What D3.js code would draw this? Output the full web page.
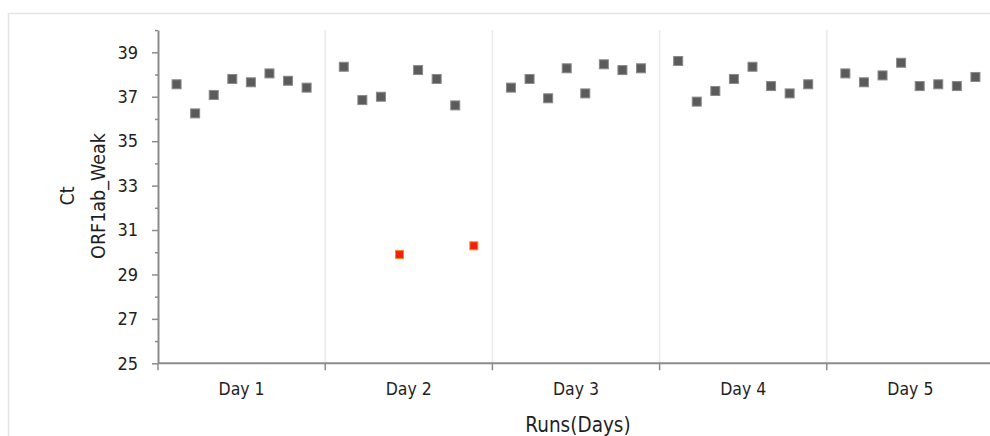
<!DOCTYPE html>
<html>
<head>
<meta charset="utf-8">
<script src="https://cdn.jsdelivr.net/npm/d3@7"></script>
<style>
  html, body { margin: 0; padding: 0; background: #fff; }
  svg { display: block; }
  text { font-family: 'DejaVu Sans Condensed', 'DejaVu Sans', sans-serif; fill: #1f1f1f; }
</style>
</head>
<body>
<div id="chart"></div>
<script>
// 데이터 - Ct 값 (ORF1ab_Weak), 하루 8회 측정
const days = ['Day 1', 'Day 2', 'Day 3', 'Day 4', 'Day 5'];
const ctDay1 = [37.56, 36.25, 37.08, 37.80, 37.65, 38.05, 37.72, 37.41];
const ctDay2 = [38.35, 36.85, 37.00, 29.90, 38.20, 37.80, 36.61, 30.29];
const ctDay3 = [37.41, 37.80, 36.93, 38.28, 37.15, 38.46, 38.20, 38.28];
const ctDay4 = [38.61, 36.78, 37.26, 37.80, 38.35, 37.48, 37.15, 37.56];
const ctDay5 = [38.05, 37.65, 37.96, 38.53, 37.48, 37.56, 37.48, 37.89];
const ctSeries = [ctDay1, ctDay2, ctDay3, ctDay4, ctDay5];
// 이상치 (빨강 표시) - [day index, run index]
const outliers = [[1, 3], [1, 7]];
const yTicks = [25, 27, 29, 31, 33, 35, 37, 39];
const yMinorTicks = [26, 28, 30, 32, 34, 36, 38, 40];

const width = 990, height = 436;
const slotsPerDay = 9;

const svg = d3.select('#chart').append('svg')
    .attr('width', width)
    .attr('height', height);

// 바깥 프레임
svg.append('rect')
    .attr('x', 8.5).attr('y', 13.5)
    .attr('width', 1000).attr('height', 440)
    .attr('fill', 'none')
    .attr('stroke', '#e4e4e4')
    .attr('stroke-width', 1.5);

const x = d3.scaleLinear()
    .domain([0, days.length * slotsPerDay])
    .range([158, 994]);

const y = d3.scaleLinear()
    .domain([25, 40])
    .range([363.3, 30.1]);

// 날짜 구분 세로선
svg.append('g')
    .selectAll('line')
    .data(d3.range(1, days.length))
    .join('line')
    .attr('x1', d => x(d * slotsPerDay))
    .attr('x2', d => x(d * slotsPerDay))
    .attr('y1', y(40))
    .attr('y2', y(25))
    .attr('stroke', '#ebebeb')
    .attr('stroke-width', 1.5);

// Y축 - 보조 눈금
svg.append('g')
    .attr('transform', `translate(${x(0)},0)`)
    .call(d3.axisLeft(y).tickValues(yMinorTicks).tickSize(3).tickFormat(''))
    .call(g => g.select('.domain').remove())
    .call(g => g.selectAll('line').attr('stroke', '#8c8c8c').attr('stroke-width', 1.5));

// Y축 - 주 눈금
svg.append('g')
    .attr('transform', `translate(${x(0)},0)`)
    .call(d3.axisLeft(y).tickValues(yTicks).tickSize(6).tickPadding(14).tickSizeOuter(0))
    .call(g => g.select('.domain').attr('stroke', '#8c8c8c').attr('stroke-width', 2))
    .call(g => g.selectAll('line').attr('stroke', '#8c8c8c').attr('stroke-width', 1.5))
    .call(g => g.selectAll('text')
        .attr('font-family', null)
        .style('font-size', '18px')
        .attr('fill', '#1f1f1f'));

// X축
const xAxis = svg.append('g')
    .attr('transform', `translate(0,${y(25)})`);

xAxis.append('line')
    .attr('x1', x(0)).attr('x2', width)
    .attr('stroke', '#8c8c8c')
    .attr('stroke-width', 2);

xAxis.selectAll('.tick')
    .data(d3.range(0, days.length + 1))
    .join('line')
    .attr('class', 'tick')
    .attr('x1', d => x(d * slotsPerDay))
    .attr('x2', d => x(d * slotsPerDay))
    .attr('y1', 0)
    .attr('y2', 7)
    .attr('stroke', '#8c8c8c')
    .attr('stroke-width', 1.5);

xAxis.selectAll('.day-label')
    .data(days)
    .join('text')
    .attr('class', 'day-label')
    .attr('x', (d, i) => x(i * slotsPerDay + slotsPerDay / 2))
    .attr('y', 32)
    .attr('text-anchor', 'middle')
    .style('font-size', '17.5px')
    .text(d => d);

// 축 제목
svg.append('text')
    .attr('x', x(days.length * slotsPerDay / 2) + 2)
    .attr('y', 432)
    .attr('text-anchor', 'middle')
    .style('font-size', '20.5px')
    .text('Runs(Days)');

const yTitle = svg.append('text')
    .attr('transform', 'translate(0,196) rotate(-90)')
    .attr('text-anchor', 'middle')
    .style('font-size', '19.5px');
yTitle.append('tspan').attr('x', 0).attr('y', 74).text('Ct');
yTitle.append('tspan').attr('x', 0).attr('y', 105).text('ORF1ab_Weak');

// 데이터 포인트
const points = [];
ctSeries.forEach((vals, di) => {
    vals.forEach((v, ri) => {
        const isOut = outliers.some(o => o[0] === di && o[1] === ri);
        points.push({ day: di, run: ri, value: v, outlier: isOut });
    });
});

svg.append('g')
    .selectAll('rect')
    .data(points)
    .join('rect')
    .attr('x', d => x(d.day * slotsPerDay + d.run + 1) - (d.outlier ? 4 : 4.5))
    .attr('y', d => y(d.value) - (d.outlier ? 4 : 4.5))
    .attr('width', d => d.outlier ? 8 : 9)
    .attr('height', d => d.outlier ? 8 : 9)
    .attr('fill', d => d.outlier ? '#f0200c' : '#5b5b5b')
    .attr('stroke', d => d.outlier ? '#ff8a1a' : '#8a8a8a')
    .attr('stroke-width', 1);
</script>
</body>
</html>
